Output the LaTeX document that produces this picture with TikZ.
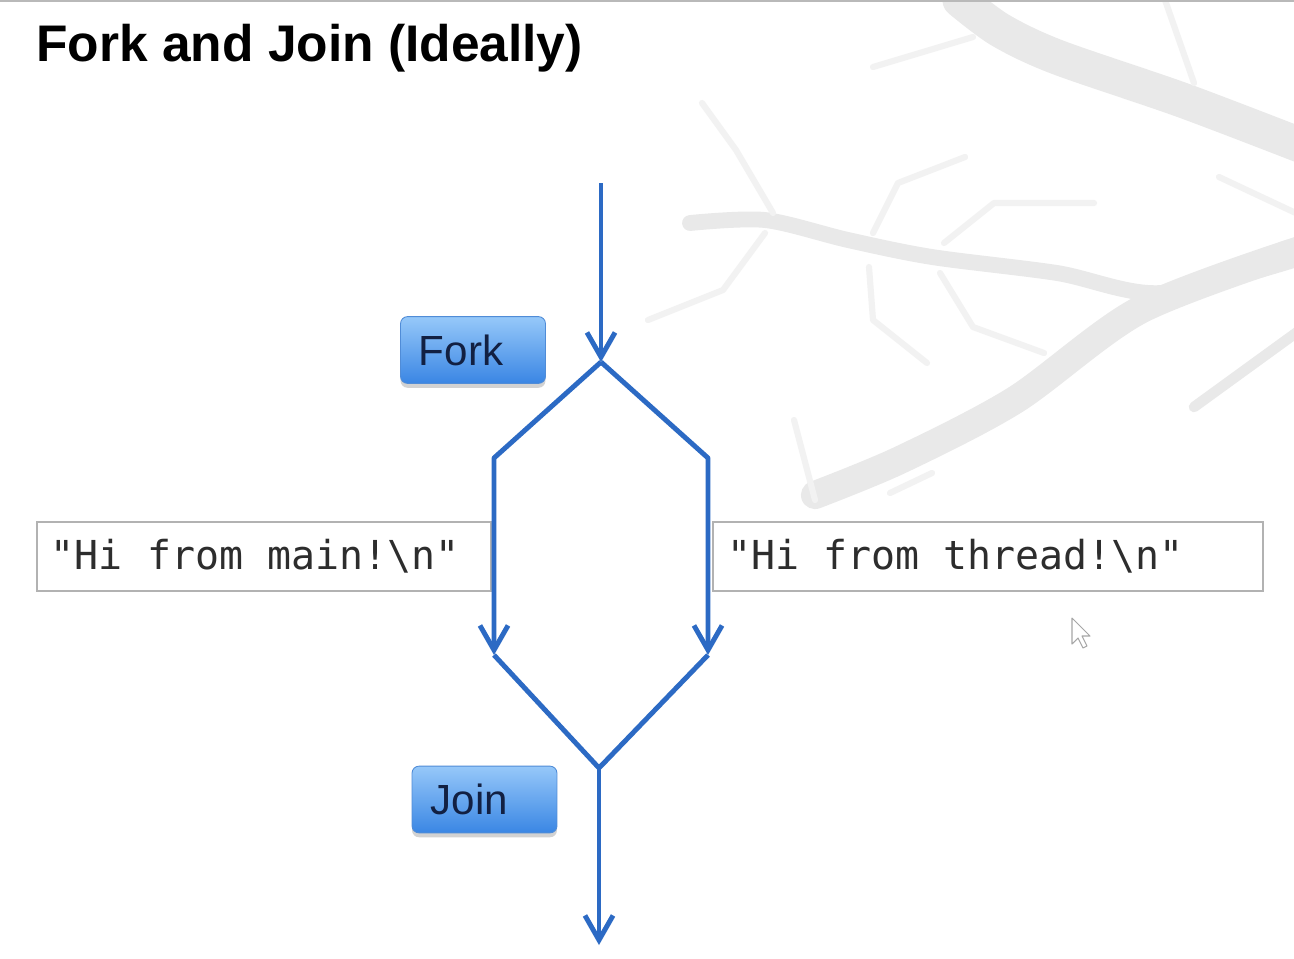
\documentclass[tikz,border=0pt]{standalone}
\usepackage{fontspec}
\setmainfont{Liberation Sans}
\setmonofont{DejaVu Sans Mono}
\usetikzlibrary{arrows.meta,shadows}
\definecolor{flowblue}{RGB}{44,106,196}
\definecolor{btntop}{RGB}{150,200,249}
\definecolor{btnbot}{RGB}{58,134,228}
\definecolor{btnedge}{RGB}{80,140,215}
\definecolor{btntext}{RGB}{18,32,66}
\definecolor{codeedge}{RGB}{178,178,178}
\definecolor{codetext}{RGB}{45,45,45}
\definecolor{treegray}{RGB}{233,233,233}
\definecolor{treelight}{RGB}{242,242,242}
\newcommand{\msp}{\hspace{0.6021em}}
\begin{document}
\begin{tikzpicture}[x=0.02cm,y=-0.02cm,
  flow/.style={draw=flowblue, line width=2.8pt, line join=round},
  tipped/.style={-{Straight Barb[length=14pt,width=16pt]}},
  btn/.style={rounded corners=4pt, draw=btnedge, line width=0.5pt,
    top color=btntop, bottom color=btnbot, text=btntext,
    minimum height=38pt, inner ysep=0pt, inner xsep=10.5pt,
    text width=61.5pt, align=left,
    font=\fontsize{24}{28}\selectfont,
    drop shadow={shadow xshift=0pt, shadow yshift=-2.5pt, opacity=0.35}},
  codebox/.style={draw=codeedge, line width=1.2pt, fill=white, text=codetext,
    minimum height=39pt, inner xsep=8pt, align=left,
    font=\ttfamily\fontsize{22.7}{24}\selectfont},
  branch/.style={draw=treegray, line cap=round, line join=round},
  twig/.style={draw=treelight, line cap=round, line join=round, line width=3.5pt}
]
\useasboundingbox (0,0) rectangle (1294,958);
\fill[white] (0,0) rectangle (1294,958);
% faint tree in the background
\draw[branch, line width=20pt] plot[smooth] coordinates {(960,0) (1000,30) (1057,57) (1182,100) (1300,145)};
\draw[branch, line width=9pt] plot[smooth] coordinates {(690,223) (765,220) (848,240) (932,257) (1057,273) (1161,293) (1300,258)};
\draw[branch, line width=16pt] plot[smooth] coordinates {(1300,250) (1140,310) (1015,400) (900,460) (815,495)};
\draw[branch, line width=6pt] (1300,330) -- (1194,407);
\draw[twig] (1165,0) -- (1194,83);
\draw[twig] (873,67) -- (973,37);
\draw[twig] (702,103) -- (736,150) -- (773,213);
\draw[twig] (765,233) -- (723,290) -- (648,320);
\draw[twig] (873,233) -- (898,183) -- (965,157);
\draw[twig] (944,243) -- (994,203) -- (1094,203);
\draw[twig] (869,267) -- (873,320) -- (927,363);
\draw[twig] (940,273) -- (973,327) -- (1044,353);
\draw[twig] (1219,177) -- (1300,215);
\draw[twig] (794,420) -- (815,500);
\draw[twig] (890,493) -- (932,473);
% top rule
\draw[gray!55, line width=1.2pt] (0,1) -- (1294,1);
% title
\node[anchor=base west, inner sep=0pt, font=\fontsize{29.3}{34}\selectfont\bfseries] (title) at (36,61) {Fork and Join (Ideally)};
% code boxes
\node[codebox, text width=242.5pt] (mainbox) at (264,556.5) {\mbox{"Hi\msp from\msp main!\textbackslash n"}};
\node[codebox, text width=297pt] (threadbox) at (988,556.5) {\mbox{"Hi\msp from\msp thread!\textbackslash n"}};
% fork/join buttons
\node[btn] (forkbtn) at (473,350) {Fork};
\node[btn] (joinbtn) at (484.5,799.5) {Join};
% flow
\coordinate (start) at (601,183);
\coordinate (fork) at (601,362);
\coordinate (lt) at (494,458);
\coordinate (rt) at (708,458);
\coordinate (lb) at (494,655);
\coordinate (rb) at (708,655);
\coordinate (join) at (599,768);
\coordinate (end) at (599,945);
\draw[flow, tipped] (start) -- (fork);
\draw[flow, tipped] (fork) -- (lt) -- (lb);
\draw[flow, tipped] (fork) -- (rt) -- (rb);
\draw[flow] (lb) -- (join) -- (rb);
\draw[flow, tipped] (join) -- (end);
% mouse pointer
\draw[fill=white, draw=gray!70, line width=0.6pt, line join=round]
  (1072,618) -- (1072,644) -- (1078,638) -- (1083,648) -- (1087,646) -- (1082,636) -- (1090,636) -- cycle;
\end{tikzpicture}
\end{document}
